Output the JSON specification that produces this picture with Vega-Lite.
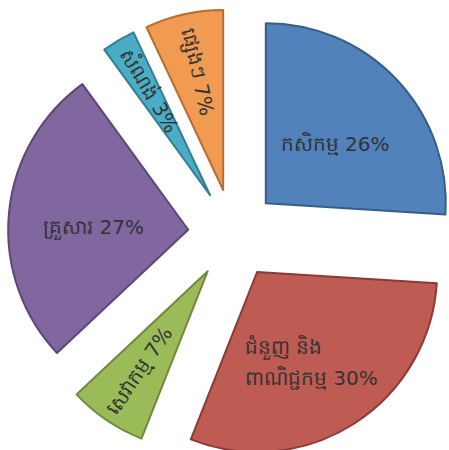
{
  "$schema": "https://vega.github.io/schema/vega-lite/v6.json",
  "width": 449,
  "height": 450,
  "padding": 0,
  "autosize": {"type": "none"},
  "background": "white",
  "config": {"view": {"stroke": null}},
  "data": {
    "values": [
      {"label": "កសិកម្ម", "value": 26},
      {"label": "ជំនួញ និង\nពាណិជ្ជកម្ម", "value": 30},
      {"label": "សេវាកម្ម", "value": 7},
      {"label": "គ្រួសារ", "value": 27},
      {"label": "សំណង់", "value": 3},
      {"label": "ផ្សេងៗ", "value": 7}
    ]
  },
  "transform": [
    {"window": [{"op": "sum", "field": "value", "as": "cum"}], "frame": [null, 0]},
    {"calculate": "datum.cum - datum.value", "as": "start"},
    {"calculate": "datum.cum - datum.value / 2", "as": "mid"},
    {"calculate": "45 * sin(datum.mid * PI / 50)", "as": "dx"},
    {"calculate": "-45 * cos(datum.mid * PI / 50)", "as": "dy"},
    {"calculate": "datum.mid * 3.6 - 270", "as": "rot"},
    {"calculate": "datum.label + ' ' + datum.value + '%'", "as": "txt"}
  ],
  "encoding": {
    "x": {"field": "dx", "type": "quantitative", "axis": null, "scale": {"domain": [-233, 216], "range": [0, 449], "zero": false, "nice": false}},
    "y": {"field": "dy", "type": "quantitative", "axis": null, "scale": {"domain": [-234, 216], "range": [0, 450], "zero": false, "nice": false}}
  },
  "layer": [
    {
      "mark": {"type": "arc", "outerRadius": 180, "innerRadius": 0, "strokeWidth": 2, "strokeJoin": "round"},
      "encoding": {
        "theta": {"field": "start", "type": "quantitative", "stack": null, "scale": {"domain": [0, 100], "range": [0, 6.283185307179586]}},
        "theta2": {"field": "cum"},
        "color": {"field": "label", "type": "nominal", "legend": null, "scale": {"domain": ["កសិកម្ម", "ជំនួញ និង\nពាណិជ្ជកម្ម", "សេវាកម្ម", "គ្រួសារ", "សំណង់", "ផ្សេងៗ"], "range": ["#5182BB", "#BE5B53", "#9BBB59", "#8067A0", "#4BACC6", "#F09A52"]}},
        "stroke": {"field": "label", "type": "nominal", "legend": null, "scale": {"domain": ["កសិកម្ម", "ជំនួញ និង\nពាណិជ្ជកម្ម", "សេវាកម្ម", "គ្រួសារ", "សំណង់", "ផ្សេងៗ"], "range": ["#385D8A", "#8C3836", "#71893F", "#5C4776", "#357D91", "#B66D31"]}}
      }
    },
    {
      "transform": [{"filter": "datum.value >= 10 && indexof(datum.label, '\\n') < 0"}],
      "mark": {"type": "text", "radius": 95, "dy": 7, "fontSize": 20, "font": "DejaVu Sans", "color": "#333333", "align": "center", "baseline": "middle"},
      "encoding": {
        "theta": {"field": "mid", "type": "quantitative", "stack": null, "scale": {"domain": [0, 100], "range": [0, 6.283185307179586]}},
        "text": {"field": "txt"}
      }
    },
    {
      "transform": [{"filter": "indexof(datum.label, '\\n') >= 0"}],
      "mark": {"type": "text", "radius": 108, "dx": -70, "dy": -15, "fontSize": 20, "font": "DejaVu Sans", "color": "#333333", "align": "left", "baseline": "middle", "lineBreak": "\n", "lineHeight": 31},
      "encoding": {
        "theta": {"field": "mid", "type": "quantitative", "stack": null, "scale": {"domain": [0, 100], "range": [0, 6.283185307179586]}},
        "text": {"field": "txt"}
      }
    },
    {
      "transform": [{"filter": "datum.value < 10"}],
      "mark": {"type": "text", "radius": 121, "fontSize": 20, "font": "DejaVu Sans", "color": "#333333", "align": "center", "baseline": "middle"},
      "encoding": {
        "theta": {"field": "mid", "type": "quantitative", "stack": null, "scale": {"domain": [0, 100], "range": [0, 6.283185307179586]}},
        "text": {"field": "txt"},
        "angle": {"field": "rot", "type": "quantitative", "scale": null}
      }
    }
  ]
}
